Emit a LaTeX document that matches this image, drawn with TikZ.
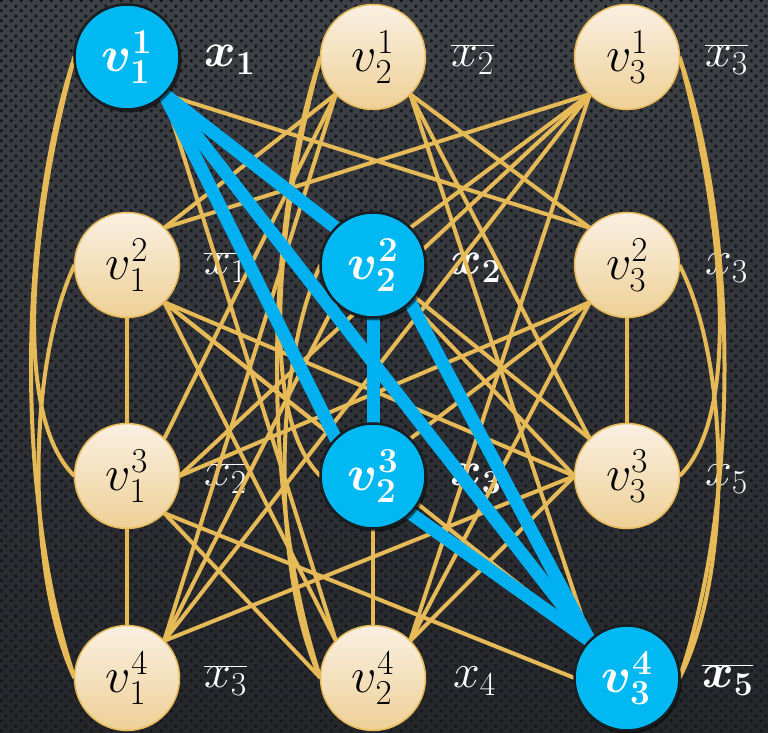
\RequirePackage{fix-cm}
\documentclass[tikz,border=0pt]{standalone}
\usepackage{bm}
\usetikzlibrary{patterns.meta,shadows,calc}
\definecolor{gold}{RGB}{231,186,88}
\definecolor{blueline}{RGB}{0,176,240}
\definecolor{bluenode}{RGB}{0,185,242}
\definecolor{beigetop}{RGB}{250,240,226}
\definecolor{beigebot}{RGB}{238,208,150}
\definecolor{bgtop}{RGB}{62,65,70}
\definecolor{bgbot}{RGB}{36,38,42}
\definecolor{dotcol}{RGB}{22,23,26}
\definecolor{bluerim}{RGB}{25,30,35}
\pgfdeclarelayer{bglayer}
\pgfdeclarelayer{labellayer}
\pgfdeclarelayer{edgelayer}
\pgfdeclarelayer{bluelayer}
\pgfsetlayers{bglayer,labellayer,edgelayer,bluelayer,main}
\tikzdeclarepattern{
  name=carbondots,
  type=uncolored,
  bounding box={(0pt,0pt) and (10pt,10pt)},
  tile size={(10pt,10pt)},
  code={
    \fill (2.5pt,2.5pt) circle (2.1pt);
    \fill (7.5pt,7.5pt) circle (2.1pt);
  }
}
\begin{document}
\begin{tikzpicture}[x=1pt,y=1pt,
  vnode/.style={circle, minimum size=105pt, inner sep=0pt, outer sep=0pt, font=\fontsize{50}{56}\selectfont},
  plain/.style={vnode, draw=gold, line width=1.5pt, top color=beigetop, bottom color=beigebot, text=black},
  chosen/.style={vnode, draw=bluerim, line width=2.5pt, fill=bluenode, text=white,
     drop shadow={shadow xshift=2pt, shadow yshift=-3pt, fill=black, opacity=0.5}},
  lab/.style={anchor=base west, inner sep=0pt, text=white, font=\fontsize{48}{54}\selectfont},
  gl/.style={draw=gold, line width=4pt},
  bl/.style={draw=blueline, line width=13pt, line cap=round},
]
\useasboundingbox (0,0) rectangle (768,733);
\begin{pgfonlayer}{bglayer}
\shade[top color=bgtop, bottom color=bgbot] (0,0) rectangle (768,733);
\path[pattern=carbondots, pattern color=dotcol] (0,0) rectangle (768,733);
\end{pgfonlayer}

% nodes
\node[chosen] (A1) at (127,676) {$\bm{v_1^1}$};
\node[plain]  (A2) at (373,676) {$v_2^1$};
\node[plain]  (A3) at (627,676) {$v_3^1$};
\node[plain]  (B1) at (127,468) {$v_1^2$};
\node[chosen] (B2) at (373,468) {$\bm{v_2^2}$};
\node[plain]  (B3) at (627,468) {$v_3^2$};
\node[plain]  (C1) at (127,257) {$v_1^3$};
\node[chosen] (C2) at (373,257) {$\bm{v_2^3}$};
\node[plain]  (C3) at (627,257) {$v_3^3$};
\node[plain]  (D1) at (127,55) {$v_1^4$};
\node[plain]  (D2) at (373,55) {$v_2^4$};
\node[chosen] (D3) at (627,55) {$\bm{v_3^4}$};

% labels
\begin{pgfonlayer}{labellayer}
\node[lab] (LA1) at (204,666) {$\bm{x_1}$};
\node[lab] (LA2) at (451,666) {$\overline{x_2}$};
\node[lab] (LA3) at (705,666) {$\overline{x_3}$};
\node[lab] (LB1) at (204,458) {$\overline{x_1}$};
\node[lab] (LB2) at (450,458) {$\bm{x_2}$};
\node[lab] (LB3) at (705,458) {$x_3$};
\node[lab] (LC1) at (204,247) {$\overline{x_2}$};
\node[lab] (LC2) at (450,247) {$\bm{x_3}$};
\node[lab] (LC3) at (705,247) {$x_5$};
\node[lab] (LD1) at (204,45) {$\overline{x_3}$};
\node[lab] (LD2) at (453,45) {$x_4$};
\node[lab] (LD3) at (702,45) {$\bm{\overline{x_5}}$};
\end{pgfonlayer}

% gold edges
\begin{pgfonlayer}{edgelayer}
% arcs, column 1
\draw[gl] (A1.west) .. controls ($(A1.west)+(-40,-145)$) and ($(C1.west)+(-66,64)$) .. (C1.west);
\draw[gl] (A1.west) .. controls ($(A1.west)+(-58,-176)$) and ($(D1.west)+(-58,176)$) .. (D1.west);
\draw[gl] (B1.west) .. controls ($(B1.west)+(-48,-102)$) and ($(D1.west)+(-48,102)$) .. (D1.west);
% arcs, column 2
\draw[gl] (A2.west) .. controls ($(A2.west)+(-40,-145)$) and ($(C2.west)+(-66,64)$) .. (C2.west);
\draw[gl] (A2.west) .. controls ($(A2.west)+(-58,-176)$) and ($(D2.west)+(-58,176)$) .. (D2.west);
\draw[gl] (B2.west) .. controls ($(B2.west)+(-48,-102)$) and ($(D2.west)+(-48,102)$) .. (D2.west);
% arcs, column 3
\draw[gl] (A3.east) .. controls ($(A3.east)+(40,-145)$) and ($(C3.east)+(66,64)$) .. (C3.east);
\draw[gl] (A3.east) .. controls ($(A3.east)+(60,-176)$) and ($(D3.east)+(60,176)$) .. (D3.east);
\draw[gl] (B3.east) .. controls ($(B3.east)+(52,-102)$) and ($(D3.east)+(52,102)$) .. (D3.east);
% straight edges
\draw[gl] (A1.south east) -- (B3.north west);
\draw[gl] (A2.south west) -- (B1.north east);
\draw[gl] (A2.south east) -- (B3.north west);
\draw[gl] (A3.south west) -- (B1.north east);
\draw[gl] (A3.south west) -- (B2.north east);
\draw[gl] (A1.south east) -- (C3.north west);
\draw[gl] (A2.south west) -- (C1.north east);
\draw[gl] (A2.south east) -- (C3.north west);
\draw[gl] (A3.south west) -- (C1.east);
\draw[gl] (A1.south east) -- (D2.north west);
\draw[gl] (A2.south west) -- (D1.north east);
\draw[gl] (A2.south east) -- (D3.north west);
\draw[gl] (A3.south west) -- (D1.north east);
\draw[gl] (A3.south west) -- (D2.north east);
\draw[gl] (B1.south) -- (C1.north);
\draw[gl] (B1.south east) -- (C2.north west);
\draw[gl] (B1.south east) -- (C3.west);
\draw[gl] (B2.south east) -- (C3.west);
\draw[gl] (B3.south west) -- (C1.east);
\draw[gl] (B3.south west) -- (C2.north east);
\draw[gl] (B3.south) -- (C3.north);
\draw[gl] (B1.south east) -- (D2.north west);
\draw[gl] (B1.south east) -- (D3.north west);
\draw[gl] (B2.south west) -- (D1.north east);
\draw[gl] (B3.south west) -- (D2.north east);
\draw[gl] (C1.south) -- (D1.north);
\draw[gl] (C1.south east) -- (D2.west);
\draw[gl] (C1.south east) -- (D3.west);
\draw[gl] (C2.south) -- (D2.north);
\draw[gl] (C3.west) -- (D1.north east);
\draw[gl] (C3.west) -- (D2.north east);
\end{pgfonlayer}

% blue clique edges
\begin{pgfonlayer}{bluelayer}
\draw[bl] (A1.south east) -- (B2.north west);
\draw[bl] (A1.south east) -- (C2.north west);
\draw[bl] (A1.south east) -- (D3.north west);
\draw[bl] (B2.south) -- (C2.north);
\draw[bl] (B2.south east) -- (D3.north west);
\draw[bl] (C2.south east) -- (D3.north west);
\end{pgfonlayer}
\end{tikzpicture}
\end{document}
